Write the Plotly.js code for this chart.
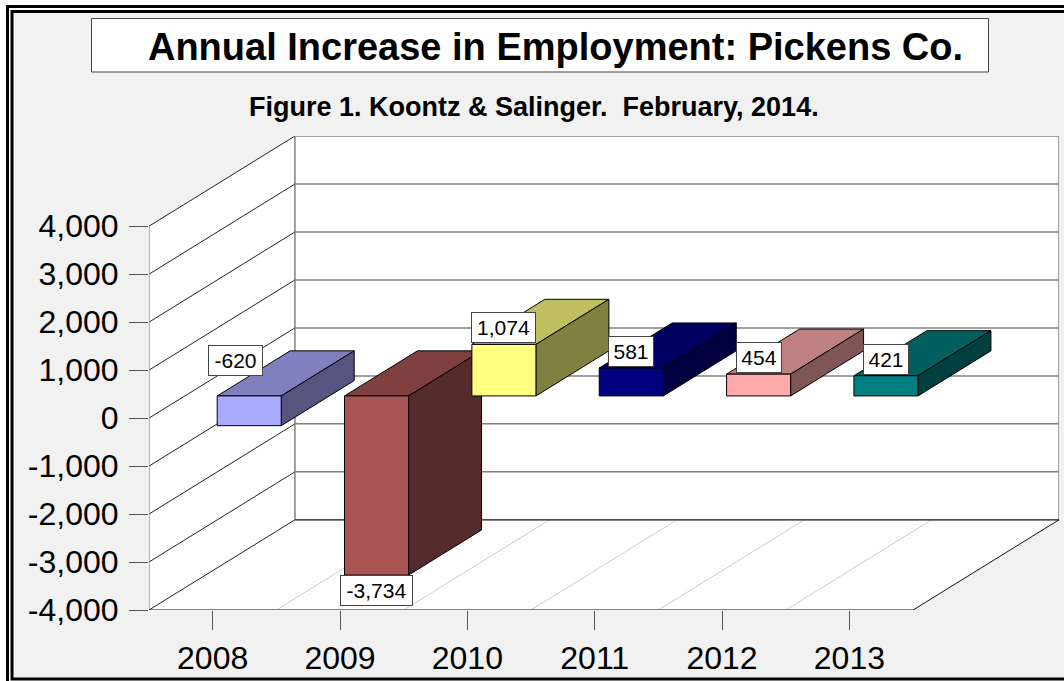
<!DOCTYPE html>
<html>
<head>
<meta charset="utf-8">
<script src="https://cdn.plot.ly/plotly-3.0.1.min.js"></script>
<style>html,body{margin:0;padding:0;background:#fff;overflow:hidden}</style>
</head>
<body>
<div id="chart" style="width:1064px;height:681px"></div>
<script>
// ---- data ----
const years = ['2008','2009','2010','2011','2012','2013'];
const increases = [-620,-3734,1074,581,454,421];
const valueLabels = ['-620','-3,734','1,074','581','454','421'];
const yTickVals = [-4000,-3000,-2000,-1000,0,1000,2000,3000,4000];
const yTickText = ['-4,000','-3,000','-2,000','-1,000','0','1,000','2,000','3,000','4,000'];

// ---- style ----
const frontColors = ['#AAAAFF','#AA5555','#FFFF80','#000080','#FFAAAA','#008080'];
const topColors   = ['#8080BF','#804040','#BFBF60','#000060','#BF8080','#006060'];
const sideColors  = ['#555580','#552B2B','#808040','#000040','#805555','#004040'];
const labelWidths = [53,71,63,44,44,44];

// ---- oblique projection onto the 2D axes ----
const W = 1064, H = 681, L = 149, R = 1059, T = 136, B = 610;
const skewX = 1.146, skewY = 1880;       // shift of the back wall in axis units
const xMin = -0.5, xFront = 5.5, yMin = -4000, yMax = 4000;
const barShiftX = 0.287, barShiftY = 462, barHalf = 0.2515, barDepth = 0.5;
const xMax = xFront + skewX, yTop = yMax + skewY;

const traces = [];
function poly(xs, ys, fill, line, width) {
  const t = {type:'scatter', mode:'lines', x:xs, y:ys, cliponaxis:false, hoverinfo:'skip',
             showlegend:false, line:{color:line, width:width}};
  if (fill) { t.fill = 'toself'; t.fillcolor = fill; }
  traces.push(t);
}
const seg = (x0,y0,x1,y1,c,w) => poly([x0,x1],[y0,y1],null,c,w);

// walls and floor
poly([xMin,xMin+skewX,xMax,xMax,xFront,xMin,xMin],
     [yMax,yMax+skewY,yTop,yMin+skewY,yMin,yMin,yMax], '#FFFFFF', 'rgba(0,0,0,0)', 0);

// floor dividers
for (let i = 0; i < years.length - 1; i++) {
  seg(i+0.5, yMin, i+0.5+skewX, yMin+skewY, '#CCCCCC', 1);
}
// gridlines
yTickVals.forEach(v => {
  seg(xMin, v, xMin+skewX, v+skewY, '#222222', 1);
  if (v !== yMin) seg(xMin+skewX, v+skewY, xMax, v+skewY, '#808080', 1.5);
});
seg(xMin, yMin, xMin, yMax, '#808080', 1.2);
seg(xMin+skewX, yMin+skewY, xMin+skewX, yTop, '#808080', 1.5);
seg(xMax, yMin+skewY, xMax, yTop, '#808080', 1.5);
seg(xMin+skewX, yMin+skewY, xMax, yMin+skewY, '#111111', 1.2);
seg(xFront, yMin, xMax, yMin+skewY, '#111111', 1);
seg(xMin, yMin, xFront, yMin, '#111111', 1.2);

// bars
const dx = barDepth*skewX, dy = barDepth*skewY;
increases.forEach((v,i) => {
  const a = i + barShiftX - barHalf, b = i + barShiftX + barHalf;
  const lo = Math.min(v,0) + barShiftY, hi = Math.max(v,0) + barShiftY;
  poly([a,a+dx,b+dx,b,a],[hi,hi+dy,hi+dy,hi,hi], topColors[i], '#000000', 1);
  poly([b,b+dx,b+dx,b,b],[hi,hi+dy,lo+dy,lo,hi], sideColors[i], '#000000', 1);
  poly([a,b,b,a,a],[hi,hi,lo,lo,hi], frontColors[i], '#000000', 1);
});

// value labels
const nudgeX = [-14,0,0,0,0,0], nudgeY = [19,0,0,0,0,0];
const annotations = increases.map((v,i) => {
  const below = i === 1;
  return {
    xref:'x', yref:'y', x:i+barShiftX, y:(below ? v : Math.max(v,0)) + barShiftY,
    text:valueLabels[i], showarrow:false, xanchor:'center', yanchor: below ? 'top' : 'bottom',
    xshift:nudgeX[i], yshift:nudgeY[i] + (below ? 0 : 1),
    bgcolor:'#FFFFFF', bordercolor:'#444444', borderwidth:1, borderpad:0,
    width:labelWidths[i], height:29, font:{family:'Liberation Sans', size:21, color:'#000'}
  };
});
annotations.push({
  xref:'paper', yref:'paper', x:(534-L)/(R-L), y:(B-107)/(B-T), xanchor:'center', yanchor:'middle',
  text:'<b>Figure 1. Koontz &amp; Salinger.  February, 2014.</b>', showarrow:false,
  font:{family:'Liberation Sans', size:27, color:'#000'}
});

// page frame and title box, in window pixels
const px = x => (x-L)/(R-L), py = y => (B-y)/(B-T);
const rect = (x0,y0,x1,y1,fill,line,w) => ({type:'rect', xref:'paper', yref:'paper', layer:'below',
  x0:px(x0), x1:px(x1), y0:py(y0), y1:py(y1), fillcolor:fill, line:{color:line, width:w}});
const shapes = [
  rect(7.5,6.5,1070,690,'rgba(0,0,0,0)','#000000',3),
  rect(12,11.5,1070,679,'#F1F1F1','#000000',3),
  rect(91.5,18.5,988.5,72,'#FFFFFF','#444444',1)
];

const layout = {
  width:W, height:H, autosize:false,
  margin:{l:L, r:W-R, t:T, b:H-B, pad:0},
  paper_bgcolor:'#FFFFFF', plot_bgcolor:'rgba(0,0,0,0)', showlegend:false, hovermode:false,
  font:{family:'Liberation Sans', color:'#000'},
  title:{text:'<b>Annual Increase in Employment: Pickens Co.</b>', xref:'container', yref:'container',
         x:555.5/W, xanchor:'center', y:1-47/H, yanchor:'middle',
         font:{family:'Liberation Sans', size:38, color:'#000'}},
  xaxis:{range:[xMin,xMax], showgrid:false, zeroline:false, showline:false, fixedrange:true,
         tickmode:'array', tickvals:years.map((_,i)=>i), ticktext:years,
         ticks:'outside', ticklen:19, tickwidth:1, tickcolor:'#555555', ticklabelstandoff:1,
         tickfont:{family:'Liberation Sans', size:32, color:'#000'}},
  yaxis:{range:[yMin,yTop], showgrid:false, zeroline:false, showline:false, fixedrange:true,
         tickmode:'array', tickvals:yTickVals, ticktext:yTickText,
         ticks:'outside', ticklen:19, tickwidth:1, tickcolor:'#555555', ticklabelstandoff:4,
         tickfont:{family:'Liberation Sans', size:32, color:'#000'}},
  annotations:annotations, shapes:shapes
};
Plotly.newPlot('chart', traces, layout, {displayModeBar:false, staticPlot:true});
</script>
</body>
</html>
